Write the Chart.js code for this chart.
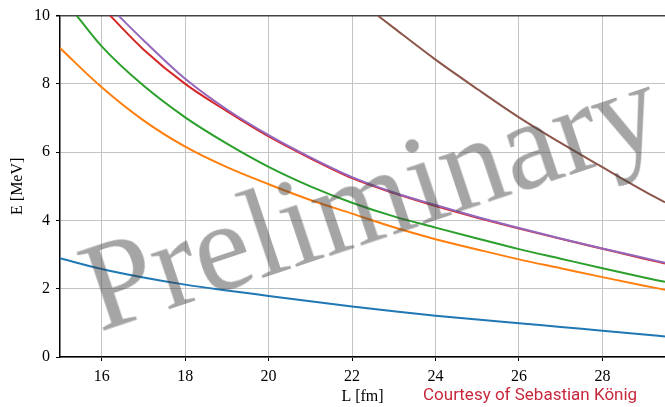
<!DOCTYPE html>
<html>
<head>
<meta charset="utf-8">
<script src="https://cdn.jsdelivr.net/npm/chart.js@4/dist/chart.umd.min.js"></script>
<style>
  html, body { margin: 0; padding: 0; background: #fff; }
  #wrap { position: relative; width: 665px; height: 407px; overflow: hidden; }
  #wm {
    position: absolute; left: 66px; top: 232px;
    font-family: "Liberation Serif", serif; font-size: 127px; line-height: 1;
    color: rgba(64,64,64,0.47); white-space: nowrap;
    transform-origin: 0 0; transform: rotate(-18.5deg); pointer-events: none;
  }
  #courtesy {
    position: absolute; left: 423px; top: 386px;
    font-family: Roboto, sans-serif; font-size: 17px; line-height: 1;
    color: #c8283c; white-space: nowrap;
  }
</style>
</head>
<body>
<div id="wrap">
  <canvas id="chart" width="665" height="407"></canvas>
  <div id="wm">Preliminary</div>
  <div id="courtesy">Courtesy of Sebastian König</div>
</div>
<script>
// values
const L_all = [15, 16, 17, 18, 19, 20, 21, 22, 23, 24, 25, 26, 27, 28, 29, 29.5];
const blueE = [2.89, 2.58, 2.33, 2.12, 1.95, 1.79, 1.63, 1.48, 1.34, 1.21, 1.1, 0.99, 0.88, 0.77, 0.66, 0.6];
const orangeE = [9.05, 7.9, 6.93, 6.16, 5.56, 5.06, 4.6, 4.2, 3.8, 3.45, 3.15, 2.86, 2.6, 2.34, 2.09, 1.97];

const greenL = [15.4, 16, 17, 18, 19, 20, 21, 22, 23, 24, 25, 26, 27, 28, 29, 29.5];
const greenE = [10, 9.1, 7.95, 7.02, 6.25, 5.57, 5.0, 4.52, 4.12, 3.79, 3.47, 3.16, 2.88, 2.6, 2.33, 2.2];

const redL = [16.2, 17, 18, 19, 20, 21, 22, 23, 24, 25, 26, 27, 28, 29, 29.5];
const redE = [10, 9.01, 8.0, 7.2, 6.46, 5.82, 5.24, 4.8, 4.42, 4.08, 3.76, 3.46, 3.17, 2.88, 2.74];

const purpleL = [16.4, 17, 18, 19, 20, 21, 22, 23, 24, 25, 26, 27, 28, 29, 29.5];
const purpleE = [10, 9.28, 8.15, 7.25, 6.5, 5.85, 5.27, 4.82, 4.45, 4.1, 3.78, 3.47, 3.18, 2.9, 2.76];

const brownL = [22.62, 23, 24, 25, 26, 27, 28, 29, 29.5];
const brownE = [10, 9.64, 8.71, 7.85, 7.02, 6.27, 5.56, 4.86, 4.53];

const xTicks = [16, 18, 20, 22, 24, 26, 28];
const yTicks = [0, 2, 4, 6, 8, 10];

function pts(xs, ys) { return xs.map((x, i) => ({x: x, y: ys[i]})); }

// later series are drawn on top, like matplotlib
function line(xs, ys, color, n) {
    return {
        data: pts(xs, ys),
        borderColor: color,
        borderWidth: 2,
        pointRadius: 0,
        fill: false,
        cubicInterpolationMode: "monotone",
        order: 10 - n
    };
}

const serif = { family: "'Liberation Serif', serif", size: 16 };

new Chart("chart", {
    type: "line",
    data: {
        datasets: [
            line(L_all, blueE, "#1f77b4", 0),
            line(L_all, orangeE, "#ff7f0e", 1),
            line(greenL, greenE, "#2ca02c", 2),
            line(redL, redE, "#d62728", 3),
            line(purpleL, purpleE, "#9467bd", 4),
            line(brownL, brownE, "#8c564b", 5)
        ]
    },
    options: {
        responsive: false,
        animation: false,
        layout: { padding: { top: 15, right: 0, left: 0, bottom: 0 } },
        plugins: { legend: { display: false }, tooltip: { enabled: false } },
        scales: {
            x: {
                type: "linear", min: 15, max: 29.5,
                afterBuildTicks: s => { s.ticks = xTicks.map(v => ({value: v})); },
                afterFit: s => { s.height = 50; },
                grid: { color: "#c4c4c4", lineWidth: 1, tickLength: 4, tickColor: "#000" },
                border: { color: "#000", width: 1.5 },
                ticks: { font: serif, color: "#000", padding: 6, maxRotation: 0 },
                title: { display: true, text: "L [fm]", font: serif, color: "#000", padding: { top: 0, bottom: 1 } }
            },
            y: {
                type: "linear", min: 0, max: 10,
                afterBuildTicks: s => { s.ticks = yTicks.map(v => ({value: v})); },
                afterFit: s => { s.width = 60; },
                grid: {
                    color: ctx => ctx.tick && ctx.tick.value === 10 ? "#444" : "#c4c4c4",
                    lineWidth: ctx => ctx.tick && ctx.tick.value === 10 ? 1.5 : 1,
                    tickLength: 4, tickColor: "#000"
                },
                border: { color: "#000", width: 1.5 },
                ticks: { font: serif, color: "#000", padding: 6 },
                title: { display: true, text: "E [MeV]", font: serif, color: "#000", padding: { top: 8, bottom: 0 } }
            }
        }
    }
});
</script>
</body>
</html>
